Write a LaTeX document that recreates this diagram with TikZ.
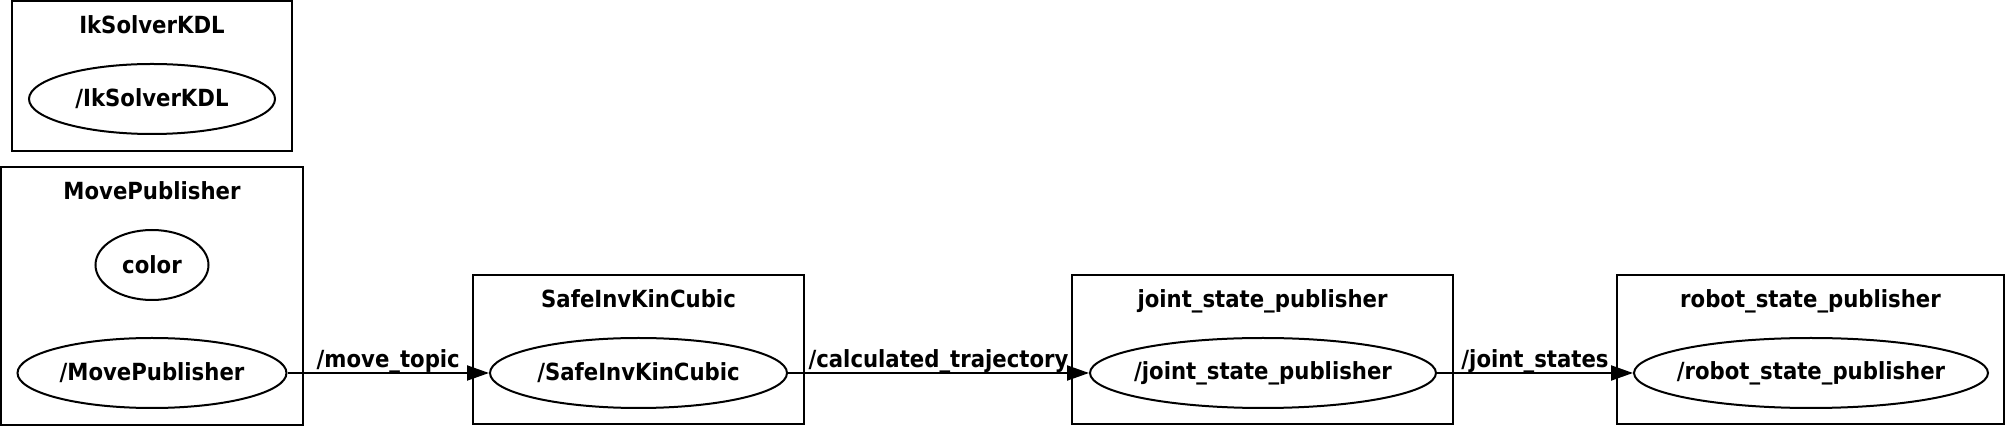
\documentclass[tikz,border=0pt]{standalone}
\usepackage{fontspec}
\newfontfamily\graphfont{DejaVu Sans Condensed}
\usetikzlibrary{arrows.meta,shapes.geometric}
\tikzset{
  cluster/.style={
    % The shape:
    rectangle,
    % The border:
    draw=black, line width=1pt,
    % The rest
    inner sep=0pt},
  rosnode/.style={
    % The shape:
    ellipse,
    % The size:
    minimum height=35pt,
    % The border:
    draw=black, line width=1pt,
    inner ysep=0pt, inner xsep=-30pt},
  clustertitle/.style={anchor=base, inner sep=0pt},
  topic/.style={anchor=base, inner sep=0pt, yshift=2.8pt},
  publish/.style={line width=1pt, -{Triangle[length=11pt,width=7.5pt]}}
}

\begin{document}
\begin{tikzpicture}[x=0.5pt,y=-0.5pt,
                    font=\graphfont\bfseries\fontsize{11.8}{13}\selectfont]
  \useasboundingbox (0,0) rectangle (2006,426);

  % Clusters:
  \node (ikBox)    [cluster, minimum width=140pt,   minimum height=75pt]   at (152,76)      {};
  \node (moveBox)  [cluster, minimum width=151pt,   minimum height=129pt]  at (152,296)     {};
  \node (safeBox)  [cluster, minimum width=165.5pt, minimum height=74.5pt] at (638.5,349.5) {};
  \node (jointBox) [cluster, minimum width=190.5pt, minimum height=74.5pt] at (1262.5,349.5) {};
  \node (robotBox) [cluster, minimum width=193.5pt, minimum height=74.5pt] at (1810.5,349.5) {};

  % Cluster titles:
  \node (ikTitle)    [clustertitle] at (152,34)    {IkSolverKDL};
  \node (moveTitle)  [clustertitle] at (152,200)   {MovePublisher};
  \node (safeTitle)  [clustertitle] at (638.5,308) {SafeInvKinCubic};
  \node (jointTitle) [clustertitle] at (1262.5,308) {joint\_state\_publisher};
  \node (robotTitle) [clustertitle] at (1810.5,308) {robot\_state\_publisher};

  % Nodes:
  \node (ikSolver)   [rosnode, minimum width=123pt]  at (152,99)   {/IkSolverKDL};
  \node (color)      [rosnode, minimum width=56.5pt] at (152,265)  {color};
  \node (movePub)    [rosnode, minimum width=134.5pt] at (152,373) {/MovePublisher};
  \node (safeInv)    [rosnode, minimum width=148.5pt] at (638.5,373) {/SafeInvKinCubic};
  \node (jointPub)   [rosnode, minimum width=173pt]  at (1263,373) {/joint\_state\_publisher};
  \node (robotPub)   [rosnode, minimum width=177pt]  at (1811,373) {/robot\_state\_publisher};

  % Topics:
  \draw[publish] (movePub.east) -- (safeInv.west)
    node[topic, midway] {/move\_topic};
  \draw[publish] (safeInv.east) -- (jointPub.west)
    node[topic, midway] {/calculated\_trajectory};
  \draw[publish] (jointPub.east) -- (robotPub.west)
    node[topic, midway] {/joint\_states};

\end{tikzpicture}
\end{document}
